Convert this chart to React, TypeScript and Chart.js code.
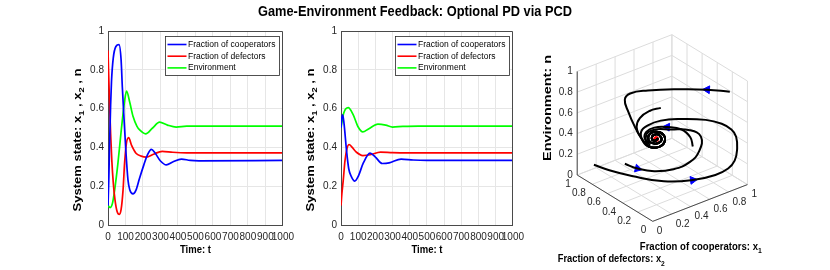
import React, { useEffect, useRef } from 'react';
import { Chart, registerables } from 'chart.js';

Chart.register(...registerables);

const FONT = '"Liberation Sans", Arial, Helvetica, sans-serif';
const TICK_COLOR = '#262626';
const GRID_COLOR = '#e6e6e6';
const AXIS_COLOR = '#4a4a4a';

const TITLE = 'Game-Environment Feedback: Optional PD via PCD';
const SERIES_NAMES = ['Fraction of cooperators', 'Fraction of defectors', 'Environment'];
const SERIES_COLORS = ['#0000ff', '#ff0000', '#00ff00'];
const TIME_TICKS = [0, 100, 200, 300, 400, 500, 600, 700, 800, 900, 1000];
const STATE_TICKS = [0, 0.2, 0.4, 0.6, 0.8, 1];

// ---- Panel 1 (initial state x1=0.1, x2=0.9, n=0.1) ----
const p1CoopT = [0, 5, 10, 15, 20, 30, 45, 63, 75, 82, 90, 101, 114, 125, 143, 160, 180, 205, 225, 248, 270, 300, 334, 370, 420, 470, 520, 1000];
const p1CoopV = [0.1, 0.25, 0.45, 0.62, 0.74, 0.86, 0.92, 0.93, 0.85, 0.71, 0.575, 0.4, 0.234, 0.18, 0.16, 0.18, 0.24, 0.31, 0.36, 0.39, 0.37, 0.33, 0.31, 0.325, 0.34, 0.333, 0.331, 0.333];
const p1DefT = [0, 3, 8, 15, 22, 30, 40, 52, 65, 75, 86, 95, 105, 118, 135, 160, 190, 219, 260, 310, 370, 450, 1000];
const p1DefV = [0.9, 0.8, 0.65, 0.47, 0.33, 0.22, 0.13, 0.07, 0.055, 0.08, 0.18, 0.32, 0.42, 0.45, 0.41, 0.37, 0.355, 0.35, 0.365, 0.38, 0.375, 0.372, 0.372];
const p1EnvT = [0, 12, 25, 38, 57, 76, 95, 106, 125, 143, 165, 181, 215, 255, 295, 340, 390, 450, 1000];
const p1EnvV = [0.1, 0.09, 0.11, 0.18, 0.32, 0.49, 0.64, 0.69, 0.63, 0.56, 0.51, 0.49, 0.47, 0.5, 0.53, 0.515, 0.505, 0.51, 0.51];

// ---- Panel 2 (initial state x1=0.5, x2=0.1, n=0.5) ----
const p2CoopT = [0, 4, 10, 18, 32, 45, 61, 80, 100, 130, 169, 200, 240, 280, 350, 420, 500, 1000];
const p2CoopV = [0.5, 0.55, 0.568, 0.52, 0.385, 0.29, 0.248, 0.226, 0.25, 0.32, 0.37, 0.35, 0.317, 0.32, 0.34, 0.335, 0.333, 0.333];
const p2DefT = [0, 5, 13, 23, 35, 47, 65, 90, 127, 170, 230, 300, 400, 1000];
const p2DefV = [0.1, 0.16, 0.23, 0.33, 0.395, 0.415, 0.4, 0.375, 0.358, 0.362, 0.376, 0.373, 0.372, 0.372];
const p2EnvT = [0, 15, 42, 70, 100, 127, 160, 215, 260, 300, 360, 450, 1000];
const p2EnvV = [0.5, 0.575, 0.605, 0.57, 0.505, 0.48, 0.495, 0.52, 0.515, 0.505, 0.508, 0.51, 0.51];

// ---- Panel 3: trajectories in (x1, x2, n) ----
const spiralTail = [
  [0.207, 0.303, 0.51], [0.27, 0.253, 0.51], [0.359, 0.293, 0.51], [0.425, 0.393, 0.51],
  [0.408, 0.469, 0.51], [0.339, 0.468, 0.51], [0.269, 0.393, 0.51], [0.273, 0.321, 0.51],
  [0.337, 0.317, 0.51], [0.391, 0.392, 0.51], [0.367, 0.439, 0.51], [0.31, 0.401, 0.51],
  [0.307, 0.356, 0.51], [0.343, 0.367, 0.51], [0.333, 0.372, 0.51],
];
const trajA = [
  [0.107, 0.913, 0.1], [0.154, 0.768, 0.095], [0.245, 0.584, 0.09], [0.385, 0.335, 0.1],
  [0.53, 0.134, 0.15], [0.73, 0.086, 0.15], [0.848, 0.065, 0.18], [0.897, 0.04, 0.25],
  [0.922, 0.039, 0.35], [0.919, 0.048, 0.47], [0.876, 0.057, 0.55], [0.765, 0.046, 0.65],
  [0.67, 0.138, 0.68], [0.513, 0.282, 0.68], [0.404, 0.4, 0.65], [0.347, 0.499, 0.58],
  [0.3, 0.53, 0.52], [0.223, 0.408, 0.51],
];
const trajB = [
  [0.208, 0.63, 0.2], [0.24, 0.501, 0.2], [0.298, 0.354, 0.22], [0.411, 0.24, 0.25],
  [0.535, 0.182, 0.3], [0.628, 0.171, 0.38], [0.681, 0.216, 0.48], [0.599, 0.262, 0.55],
  [0.459, 0.342, 0.57], [0.354, 0.423, 0.57], [0.29, 0.45, 0.53],
];
const trajC = [
  [0.881, 0.084, 0.9], [0.758, 0.229, 0.9], [0.586, 0.374, 0.9], [0.387, 0.549, 0.88],
  [0.274, 0.642, 0.85], [0.249, 0.682, 0.78], [0.248, 0.63, 0.68], [0.246, 0.544, 0.58],
  [0.241, 0.461, 0.52], [0.211, 0.349, 0.51],
];
const trajD = [
  [0.484, 0.5, 0.7], [0.4, 0.544, 0.68], [0.328, 0.582, 0.62], [0.278, 0.562, 0.56],
  [0.248, 0.482, 0.52],
];
const trajE = [
  [0.502, 0.099, 0.5], [0.518, 0.152, 0.56], [0.5, 0.244, 0.6], [0.432, 0.351, 0.6],
  [0.354, 0.423, 0.59], [0.301, 0.463, 0.55], [0.278, 0.456, 0.5], [0.231, 0.333, 0.51],
];
const trajectories = [trajA, trajB, trajC, trajD, trajE];
// arrows: [trajectory index, point index]
const arrowMarks = [[0, 4], [1, 1], [2, 1], [4, 3]];
const fixedPoint = [0.333, 0.372, 0.51];
const CUBE_TICKS = [0, 0.2, 0.4, 0.6, 0.8, 1];

// ---- projection of the 3D box (canvas-local pixels of panel 3) ----
const ORIGIN = { x: 121.7, y: 225 };
const AX1 = { x: 98.3, y: -38.3 };
const AX2 = { x: -78.4, y: -48.3 };
const AXN = { x: 0, y: -108 };
function proj(p: number[]) {
  return {
    x: ORIGIN.x + AX1.x * p[0] + AX2.x * p[1] + AXN.x * p[2],
    y: ORIGIN.y + AX1.y * p[0] + AX2.y * p[1] + AXN.y * p[2],
  };
}

type Seg = { s: string; sub?: boolean };
// draws text centred at (x, y), rotated by rot, glyph size `size`, stretched along its direction to length `len`
function drawRich(ctx: CanvasRenderingContext2D, segs: Seg[], x: number, y: number, size: number, len: number, rot = 0) {
  const subSize = size * 0.72;
  const widths = segs.map((sg) => {
    ctx.font = `bold ${sg.sub ? subSize : size}px ${FONT}`;
    return ctx.measureText(sg.s).width;
  });
  const total = widths.reduce((p, c) => p + c, 0);
  ctx.save();
  ctx.translate(x, y);
  if (rot) ctx.rotate(rot);
  ctx.scale(len / total, 1);
  let cx = -total / 2;
  ctx.textBaseline = 'middle';
  ctx.textAlign = 'left';
  segs.forEach((sg, i) => {
    ctx.font = `bold ${sg.sub ? subSize : size}px ${FONT}`;
    ctx.fillText(sg.s, cx, sg.sub ? size * 0.4 : 0);
    cx += widths[i];
  });
  ctx.restore();
}

const Y_TITLE: Seg[] = [{ s: 'System state: x' }, { s: '1', sub: true }, { s: ' , x' }, { s: '2', sub: true }, { s: ' , n' }];
const X_TITLE: Seg[] = [{ s: 'Time: t' }];

const linePanelDeco = {
  id: 'linePanelDeco',
  afterDraw(chart: any) {
    const { ctx, chartArea: a } = chart;
    ctx.save();
    ctx.strokeStyle = AXIS_COLOR;
    ctx.lineWidth = 1;
    ctx.beginPath();
    ctx.moveTo(a.left, Math.round(a.top) + 0.5);
    ctx.lineTo(Math.round(a.right) - 0.5, Math.round(a.top) + 0.5);
    ctx.lineTo(Math.round(a.right) - 0.5, a.bottom);
    ctx.stroke();

    // legend
    const lw = 114, lh = 39;
    const lx = Math.round(a.right - 4 - lw) + 0.5;
    const ly = Math.round(a.top + 5) + 0.5;
    ctx.fillStyle = '#ffffff';
    ctx.fillRect(lx, ly, lw, lh);
    ctx.strokeStyle = '#262626';
    ctx.lineWidth = 0.8;
    ctx.strokeRect(lx, ly, lw, lh);
    SERIES_NAMES.forEach((nm, i) => {
      const yy = ly + 8 + i * 11.7;
      ctx.strokeStyle = SERIES_COLORS[i];
      ctx.lineWidth = 1.6;
      ctx.beginPath();
      ctx.moveTo(lx + 2, yy);
      ctx.lineTo(lx + 21, yy);
      ctx.stroke();
      ctx.fillStyle = '#000';
      ctx.font = `8.5px ${FONT}`;
      ctx.textBaseline = 'middle';
      ctx.textAlign = 'left';
      ctx.fillText(nm, lx + 22.5, yy);
    });

    // axis titles
    ctx.fillStyle = '#000';
    drawRich(ctx, X_TITLE, (a.left + a.right) / 2, a.bottom + 25, 11, 31);
    drawRich(ctx, Y_TITLE, a.left - 29.5, a.top + 109, 10, 143, -Math.PI / 2);
    ctx.restore();
  },
};

function lineConfig(ts: number[][], vs: number[][], rightPad: number) {
  return {
    type: 'line',
    data: {
      datasets: ts.map((t, i) => ({
        label: SERIES_NAMES[i],
        data: t.map((x, j) => ({ x, y: vs[i][j] })),
        borderColor: SERIES_COLORS[i],
        borderWidth: 1.7,
        pointRadius: 0,
        fill: false,
        cubicInterpolationMode: 'monotone',
      })),
    },
    options: {
      animation: false,
      responsive: false,
      maintainAspectRatio: false,
      layout: { padding: { left: 0, right: rightPad, top: 31, bottom: 0 } },
      plugins: { legend: { display: false }, tooltip: { enabled: false }, title: { display: false } },
      scales: {
        x: {
          type: 'linear',
          min: 0,
          max: 1000,
          afterBuildTicks: (s: any) => { s.ticks = TIME_TICKS.map((v) => ({ value: v })); },
          afterFit: (s: any) => { s.height = 45; },
          ticks: {
            autoSkip: false, maxRotation: 0, minRotation: 0, padding: 6,
            color: TICK_COLOR, font: { family: FONT, size: 10 },
            callback: (v: any) => String(v),
          },
          grid: { color: GRID_COLOR, drawTicks: false },
          border: { display: true, color: AXIS_COLOR, width: 1 },
        },
        y: {
          type: 'linear',
          min: 0,
          max: 1,
          afterBuildTicks: (s: any) => { s.ticks = STATE_TICKS.map((v) => ({ value: v })); },
          afterFit: (s: any) => { s.width = 108; },
          ticks: {
            padding: 4, color: TICK_COLOR, font: { family: FONT, size: 10 },
            callback: (v: any) => String(Math.round(v * 10) / 10),
          },
          grid: { color: GRID_COLOR, drawTicks: false },
          border: { display: true, color: AXIS_COLOR, width: 1 },
        },
      },
    },
    plugins: [linePanelDeco],
  };
}

const N_TITLE: Seg[] = [{ s: 'Environment: n' }];
const X1_TITLE: Seg[] = [{ s: 'Fraction of cooperators: x' }, { s: '1', sub: true }];
const X2_TITLE: Seg[] = [{ s: 'Fraction of defectors: x' }, { s: '2', sub: true }];

const cubePlugin = {
  id: 'cubeDeco',
  beforeDatasetsDraw(chart: any) {
    const { ctx } = chart;
    const sx = chart.scales.x, sy = chart.scales.y;
    const P = (p: number[]) => { const q = proj(p); return { x: sx.getPixelForValue(q.x), y: sy.getPixelForValue(q.y) }; };
    const seg = (p: number[], q: number[]) => { const A = P(p), B = P(q); ctx.moveTo(A.x, A.y); ctx.lineTo(B.x, B.y); };
    ctx.save();
    ctx.strokeStyle = '#dcdcdc';
    ctx.lineWidth = 1;
    ctx.beginPath();
    CUBE_TICKS.forEach((v) => {
      seg([v, 0, 0], [v, 1, 0]);
      seg([0, v, 0], [1, v, 0]);
      seg([v, 1, 0], [v, 1, 1]);
      seg([0, 1, v], [1, 1, v]);
      seg([1, v, 0], [1, v, 1]);
      seg([1, 0, v], [1, 1, v]);
    });
    ctx.stroke();
    ctx.strokeStyle = AXIS_COLOR;
    ctx.beginPath();
    seg([0, 0, 0], [1, 0, 0]);
    seg([0, 0, 0], [0, 1, 0]);
    seg([0, 1, 0], [0, 1, 1]);
    ctx.stroke();

    ctx.fillStyle = TICK_COLOR;
    ctx.font = `10px ${FONT}`;
    ctx.textBaseline = 'middle';
    CUBE_TICKS.forEach((v) => {
      const lab = String(Math.round(v * 10) / 10);
      let p = P([0, 1, v]);
      ctx.textAlign = 'right';
      ctx.fillText(lab, p.x - 4.5, p.y);
      p = P([0, v, 0]);
      ctx.fillText(lab, p.x - 6.5, p.y + 9);
      p = P([v, 0, 0]);
      ctx.textAlign = 'left';
      ctx.fillText(lab, p.x + 4, p.y + 10);
    });

    ctx.fillStyle = '#000';
    drawRich(ctx, X1_TITLE, 170.8, 246.7, 11, 122);
    drawRich(ctx, X2_TITLE, 81.3, 259.3, 11, 107);
    drawRich(ctx, N_TITLE, 18.3, 108, 10, 106, -Math.PI / 2);
    ctx.restore();
  },
};

function cubeConfig() {
  const trajSets = trajectories.map((tr) => ({
    data: tr.concat(spiralTail).map((p) => proj(p)),
    showLine: true,
    borderColor: '#000',
    borderWidth: 2,
    pointRadius: 0,
    tension: 0.45,
    fill: false,
  }));
  const arrowPts = arrowMarks.map(([ti, pi]) => proj(trajectories[ti][pi]));
  const arrowRot = arrowMarks.map(([ti, pi]) => {
    const tr = trajectories[ti];
    const a = proj(tr[Math.max(pi - 1, 0)]);
    const b = proj(tr[pi + 1]);
    return (Math.atan2(b.y - a.y, b.x - a.x) * 180) / Math.PI + 90;
  });
  return {
    type: 'scatter',
    data: {
      datasets: [
        ...trajSets,
        {
          data: arrowPts,
          pointStyle: 'triangle',
          pointRadius: 4.5,
          pointRotation: arrowRot,
          backgroundColor: '#0000ff',
          borderColor: '#0000ff',
          borderWidth: 1,
          showLine: false,
        },
        {
          data: [proj(fixedPoint)],
          pointStyle: 'circle',
          pointRadius: 2.5,
          backgroundColor: '#ff0000',
          borderColor: '#ff0000',
          showLine: false,
        },
      ],
    },
    options: {
      animation: false,
      responsive: false,
      maintainAspectRatio: false,
      layout: { padding: 0 },
      plugins: { legend: { display: false }, tooltip: { enabled: false } },
      scales: {
        x: { display: false, type: 'linear', min: 0, max: 300 },
        y: { display: false, type: 'linear', min: 0, max: 270, reverse: true },
      },
    },
    plugins: [cubePlugin],
  };
}

const titlePlugin = {
  id: 'figTitle',
  afterDraw(chart: any) {
    const { ctx } = chart;
    ctx.save();
    ctx.fillStyle = '#000';
    drawRich(ctx, [{ s: TITLE }], 415, 12, 14, 314);
    ctx.restore();
  },
};

function titleConfig() {
  return {
    type: 'scatter',
    data: { datasets: [] },
    options: {
      animation: false,
      responsive: false,
      maintainAspectRatio: false,
      plugins: { legend: { display: false }, tooltip: { enabled: false } },
      scales: { x: { display: false }, y: { display: false } },
    },
    plugins: [titlePlugin],
  };
}

function ChartCanvas({ config, left, width, height = 270 }: { config: () => any; left: number; width: number; height?: number }) {
  const ref = useRef<HTMLCanvasElement | null>(null);
  useEffect(() => {
    if (!ref.current) return;
    const ch = new Chart(ref.current, config());
    return () => ch.destroy();
  }, []);
  return (
    <canvas
      ref={ref}
      width={width}
      height={height}
      style={{ position: 'absolute', left, top: 0, width, height }}
    />
  );
}

export default function App() {
  return (
    <div style={{ position: 'fixed', left: 0, top: 0, width: 830, height: 270, background: '#fff', overflow: 'hidden' }}>
      <ChartCanvas left={0} width={830} height={26} config={titleConfig} />
      <ChartCanvas
        left={0}
        width={300}
        config={() => lineConfig([p1CoopT, p1DefT, p1EnvT], [p1CoopV, p1DefV, p1EnvV], 17)}
      />
      <ChartCanvas
        left={233}
        width={297}
        config={() => lineConfig([p2CoopT, p2DefT, p2EnvT], [p2CoopV, p2DefV, p2EnvV], 13)}
      />
      <ChartCanvas left={530} width={300} config={cubeConfig} />
    </div>
  );
}
